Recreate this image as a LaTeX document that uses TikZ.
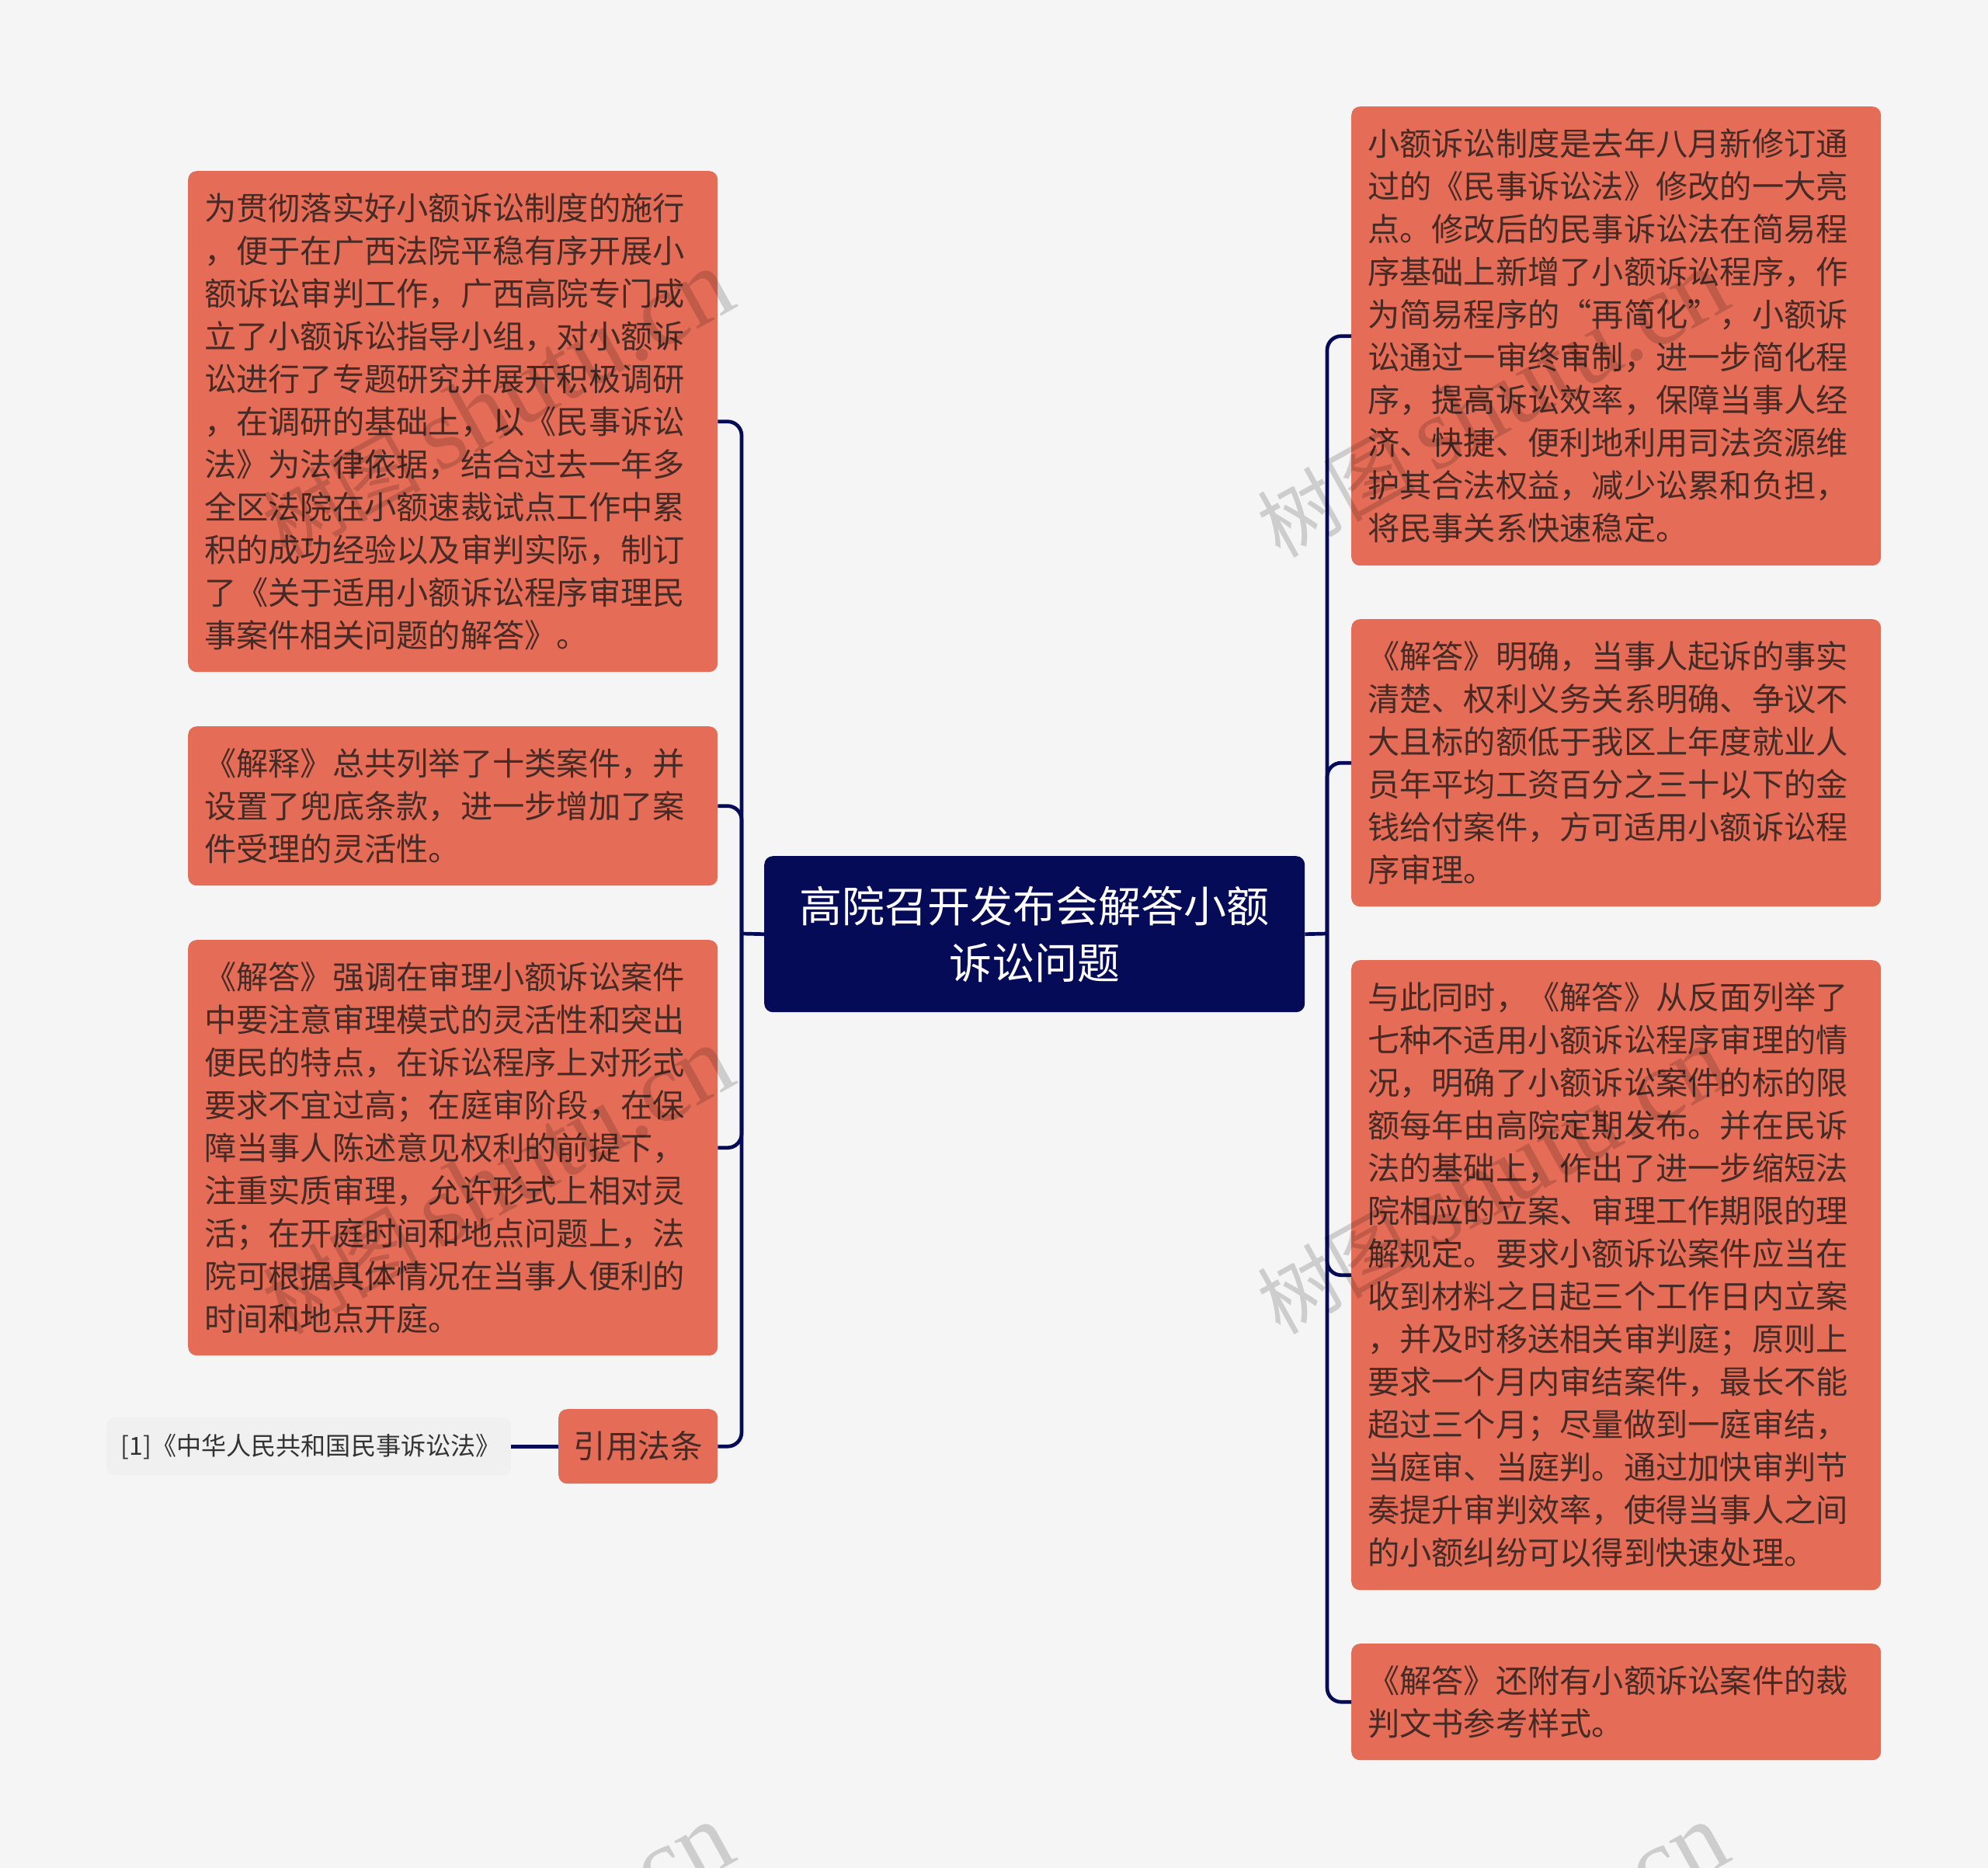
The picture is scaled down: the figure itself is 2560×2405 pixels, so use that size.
\documentclass[tikz,border=0pt]{standalone}
\usepackage{fontspec}
\setmainfont{Noto Sans CJK SC}
\newfontfamily\wmlatin{Liberation Serif}
\definecolor{pagebg}{HTML}{F5F5F5}
\definecolor{boxfill}{HTML}{E56D57}
\definecolor{boxtext}{HTML}{452A25}
\definecolor{navy}{HTML}{060B57}
\definecolor{citefill}{HTML}{F0F0F0}
\definecolor{citetext}{HTML}{333333}
\tikzset{
  x=1pt,y=-1pt,
  topicbox/.style={rectangle,rounded corners=11pt,fill=boxfill,text=boxtext,inner sep=0pt,anchor=north west,
    minimum width=682pt,text width=640pt,align=left,font=\fontsize{41.25}{55}\selectfont},
  shortbox/.style={rectangle,rounded corners=11pt,fill=boxfill,text=boxtext,inner sep=0pt,anchor=north west,
    align=center,font=\fontsize{41.6}{55}\selectfont},
  rootbox/.style={rectangle,rounded corners=11pt,fill=navy,text=white,inner sep=0pt,anchor=north west,
    align=center,font=\fontsize{55}{73.5}\selectfont},
  citebox/.style={rectangle,rounded corners=11pt,fill=citefill,text=citetext,inner sep=0pt,anchor=north west,
    align=center,font=\fontsize{32.1}{40}\selectfont},
  link/.style={draw=navy,line width=4.7pt},
  roundlink/.style={link,rounded corners=18pt},
  wmark/.style={text=black,opacity=0.16,rotate=29,inner sep=0pt,font=\fontsize{102}{110}\selectfont},
}
\begin{document}
\begin{tikzpicture}
\useasboundingbox (0,0) rectangle (2560,2405);
\fill[pagebg] (0,0) rectangle (2560,2405);
\coordinate (busL) at (955,1202);
\coordinate (busR) at (1709,1202);

\node[rootbox,minimum width=696pt,minimum height=201pt] (root) at (984,1102) {高院召开发布会解答小额\\诉讼问题};

\node[topicbox,minimum height=645pt] (L1) at (242,220) {为贯彻落实好小额诉讼制度的施行\\，便于在广西法院平稳有序开展小\\额诉讼审判工作，广西高院专门成\\立了小额诉讼指导小组，对小额诉\\讼进行了专题研究并展开积极调研\\，在调研的基础上，以《民事诉讼\\法》为法律依据，结合过去一年多\\全区法院在小额速裁试点工作中累\\积的成功经验以及审判实际，制订\\了《关于适用小额诉讼程序审理民\\事案件相关问题的解答》。};
\node[topicbox,minimum height=205pt] (L2) at (242,935) {《解释》总共列举了十类案件，并\\设置了兜底条款，进一步增加了案\\件受理的灵活性。};
\node[topicbox,minimum height=535pt] (L3) at (242,1210) {《解答》强调在审理小额诉讼案件\\中要注意审理模式的灵活性和突出\\便民的特点，在诉讼程序上对形式\\要求不宜过高；在庭审阶段，在保\\障当事人陈述意见权利的前提下，\\注重实质审理，允许形式上相对灵\\活；在开庭时间和地点问题上，法\\院可根据具体情况在当事人便利的\\时间和地点开庭。};
\node[shortbox,minimum width=205pt,minimum height=96pt] (L4) at (719,1814) {引用法条};
\node[citebox,minimum width=521pt,minimum height=74pt] (cite) at (137,1825) {\hspace*{5pt}[1]《中华人民共和国民事诉讼法》};

\node[topicbox,minimum height=591pt] (R1) at (1740,137) {小额诉讼制度是去年八月新修订通\\过的《民事诉讼法》修改的一大亮\\点。修改后的民事诉讼法在简易程\\序基础上新增了小额诉讼程序，作\\为简易程序的“再简化”，小额诉\\讼通过一审终审制，进一步简化程\\序，提高诉讼效率，保障当事人经\\济、快捷、便利地利用司法资源维\\护其合法权益，减少讼累和负担，\\将民事关系快速稳定。};
\node[topicbox,minimum height=370pt] (R2) at (1740,797) {《解答》明确，当事人起诉的事实\\清楚、权利义务关系明确、争议不\\大且标的额低于我区上年度就业人\\员年平均工资百分之三十以下的金\\钱给付案件，方可适用小额诉讼程\\序审理。};
\node[topicbox,minimum height=811pt] (R3) at (1740,1236) {与此同时，《解答》从反面列举了\\七种不适用小额诉讼程序审理的情\\况，明确了小额诉讼案件的标的限\\额每年由高院定期发布。并在民诉\\法的基础上，作出了进一步缩短法\\院相应的立案、审理工作期限的理\\解规定。要求小额诉讼案件应当在\\收到材料之日起三个工作日内立案\\，并及时移送相关审判庭；原则上\\要求一个月内审结案件，最长不能\\超过三个月；尽量做到一庭审结，\\当庭审、当庭判。通过加快审判节\\奏提升审判效率，使得当事人之间\\的小额纠纷可以得到快速处理。};
\node[topicbox,minimum height=150pt] (R4) at (1740,2116) {《解答》还附有小额诉讼案件的裁\\判文书参考样式。};

\draw[link] (root.west) -- (busL);
\draw[link] (root.east) -- (busR);
\draw[roundlink] (busL) -- (busL |- L1.east) -- (L1.east);
\draw[roundlink] (busL) -- (busL |- L2.east) -- (L2.east);
\draw[roundlink] (busL) -- (busL |- L3.east) -- (L3.east);
\draw[roundlink] (busL) -- (busL |- L4.east) -- (L4.east);
\draw[link] (L4.west) -- (cite.east);
\draw[roundlink] (busR) -- (busR |- R1.west) -- (R1.west);
\draw[roundlink] (busR) -- (busR |- R2.west) -- (R2.west);
\draw[roundlink] (busR) -- (busR |- R3.west) -- (R3.west);
\draw[roundlink] (busR) -- (busR |- R4.west) -- (R4.west);

\begin{scope}
\clip (0,0) rectangle (2560,2405);
\foreach \col/\cx in {a/640,b/1921}
  \foreach \row/\cy in {t/520,m/1520,b/2520}
    \node[wmark] (wm\col\row) at (\cx,\cy) {树图 {\wmlatin\fontsize{132}{140}\selectfont shutu.cn}};
\end{scope}
\end{tikzpicture}
\end{document}
